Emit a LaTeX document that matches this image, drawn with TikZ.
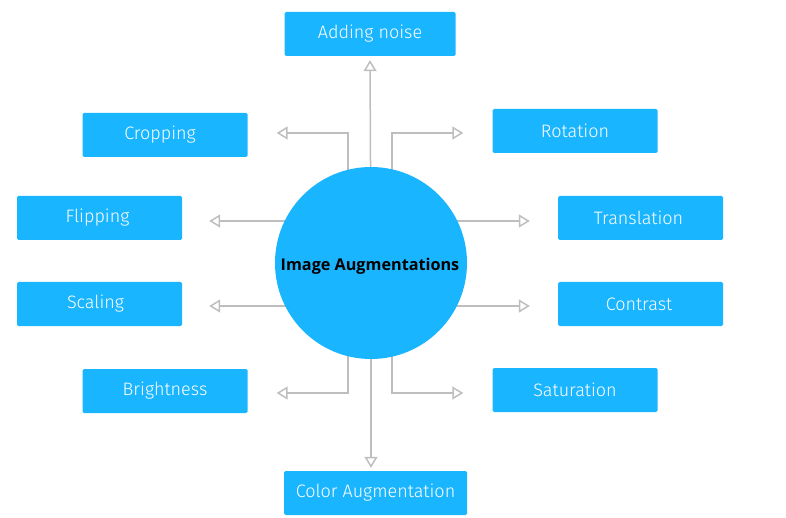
\documentclass[tikz,border=0pt]{standalone}
\usepackage{fontspec}
\setmainfont{Fira Sans Light}
\newfontfamily\hubfont{Open Sans}
\usetikzlibrary{arrows.meta,backgrounds}
\definecolor{augblue}{RGB}{26,181,255}
\definecolor{arrowgray}{RGB}{190,190,190}
\tikzset{
  augbox/.style={fill=augblue, rounded corners=1.5pt, minimum width=165pt,
    minimum height=44pt, text=white, font=\fontsize{18}{20}\selectfont, inner sep=0pt},
  hubnode/.style={circle, fill=augblue, minimum size=192pt, inner sep=0pt,
    font=\hubfont\bfseries\fontsize{16.2}{18}\selectfont},
  augarrow/.style={draw=arrowgray, line width=1.5pt,
    -{Triangle[open, length=11pt, width=13pt, line width=1.5pt]}}
}

\begin{document}
\begin{tikzpicture}[x=1pt, y=-1pt]
  \useasboundingbox (0,0) rectangle (786,518);

  % centre
  \node[hubnode] (hub) at (371,263) {};
  \node[font=\hubfont\bfseries\fontsize{16.2}{18}\selectfont] (hubtext) at (370,266) {Image Augmentations};

  % boxes round the centre
  \node[augbox, minimum width=171pt] (noise) at (370,34) {Adding noise};
  \node[augbox] (crop)   at (165,135)   {\hspace*{-10pt}Cropping};
  \node[augbox] (flip)   at (99.5,218)  {\hspace*{-4pt}Flipping};
  \node[augbox] (scal)   at (99.5,304)  {\hspace*{-8pt}Scaling};
  \node[augbox] (bright) at (165,391)   {Brightness};
  \node[augbox, minimum width=183pt] (color) at (375.5,493) {Color Augmentation};
  \node[augbox] (rot)    at (575,131)   {Rotation};
  \node[augbox] (trans)  at (640.5,218) {\hspace*{-4pt}Translation};
  \node[augbox] (contr)  at (640.5,304) {\hspace*{-3pt}Contrast};
  \node[augbox] (satur)  at (575,390)   {Saturation};

  % connectors, behind the circle
  \begin{scope}[on background layer]
    \draw[augarrow] (hub.center) -- ([yshift=-4pt]noise.south);
    \draw[augarrow] (hub.center) -- ([yshift=3pt]hub.center |- color.north);
    \draw[augarrow] ([xshift=-23pt]hub.center) |- ([xshift=29pt, yshift=2pt]crop.east);
    \draw[augarrow] ([xshift=21pt]hub.center) |- ([xshift=-29pt, yshift=-2pt]rot.west);
    \draw[augarrow] ([xshift=-23pt]hub.center) |- ([xshift=29pt, yshift=-2pt]bright.east);
    \draw[augarrow] ([xshift=21pt]hub.center) |- ([xshift=-29pt, yshift=-3pt]satur.west);
    \draw[augarrow] ([yshift=-3pt]hub.center |- flip) -- ([xshift=27pt, yshift=-3pt]flip.east);
    \draw[augarrow] ([yshift=-2pt]hub.center |- scal) -- ([xshift=27pt, yshift=-2pt]scal.east);
    \draw[augarrow] ([yshift=-3pt]hub.center |- trans) -- ([xshift=-28pt, yshift=-3pt]trans.west);
    \draw[augarrow] ([yshift=-2pt]hub.center |- contr) -- ([xshift=-28pt, yshift=-2pt]contr.west);
  \end{scope}
\end{tikzpicture}
\end{document}
